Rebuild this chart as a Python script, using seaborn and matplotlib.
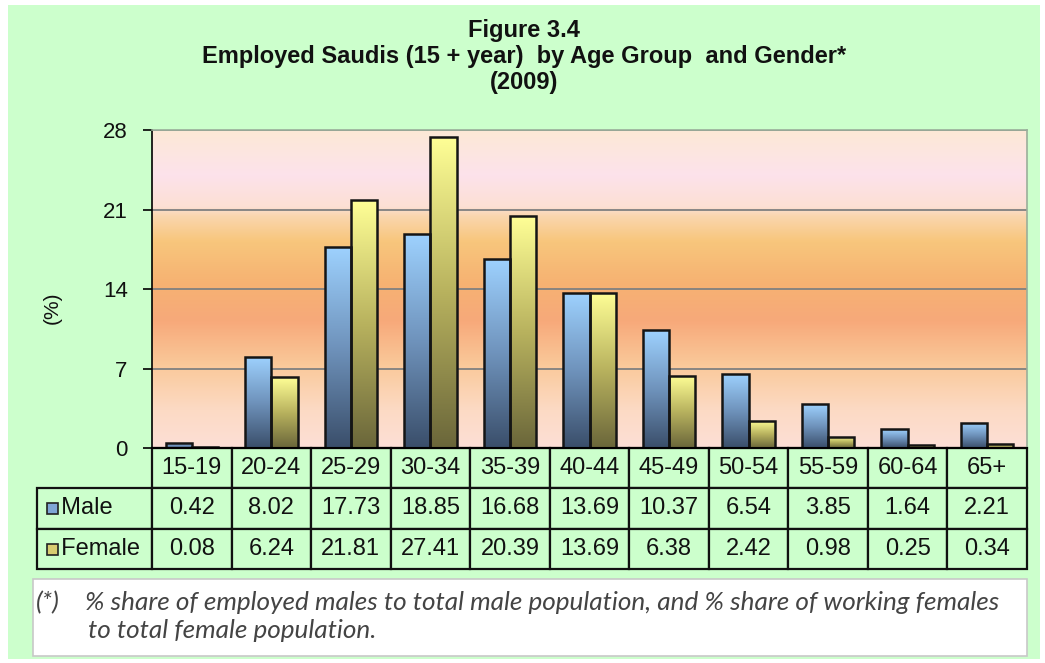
import numpy as np
import pandas as pd
import matplotlib
matplotlib.use("Agg")
import matplotlib.pyplot as plt
import seaborn as sns
from matplotlib.colors import LinearSegmentedColormap
from matplotlib.patches import Rectangle
from matplotlib.table import Table


# ----------------------------
# Data (read off the figure / data table)
# ----------------------------
AGE_GROUPS = ["15-19", "20-24", "25-29", "30-34", "35-39", "40-44",
              "45-49", "50-54", "55-59", "60-64", "65+"]
MALE = [0.42, 8.02, 17.73, 18.85, 16.68, 13.69, 10.37, 6.54, 3.85, 1.64, 2.21]
FEMALE = [0.08, 6.24, 21.81, 27.41, 20.39, 13.69, 6.38, 2.42, 0.98, 0.25, 0.34]
SERIES = ["Male", "Female"]
Y_TICKS = [0, 7, 14, 21, 28]

TITLE = ["Figure 3.4",
         "Employed Saudis (15 + year)  by Age Group  and Gender*",
         "(2009)"]
NOTE = ("% share of employed males to total male population, and % share of working females",
        "to total female population.")

df = pd.DataFrame({
    "age": AGE_GROUPS * 2,
    "gender": [SERIES[0]] * len(MALE) + [SERIES[1]] * len(FEMALE),
    "value": MALE + FEMALE,
})

GREEN = "#CCFFCC"
W, H = 1045, 663

sns.set_theme(style="white")
plt.rcParams['font.family'] = ['Liberation Sans', 'DejaVu Sans']

fig = plt.figure(figsize=(W / 100, H / 100), dpi=100, facecolor="white")
fig.patches.append(Rectangle((8 / W, 1 - 659 / H), 1032 / W, 654 / H,
                             transform=fig.transFigure, facecolor=GREEN,
                             edgecolor="none", zorder=-10))

# plot area in pixel coords: x 152..1027, y 130..448
ax = fig.add_axes([152 / W, 1 - 448 / H, 875 / W, 318 / H])

sns.barplot(data=df, x="age", y="value", hue="gender", order=AGE_GROUPS,
            hue_order=SERIES, width=0.66, palette=["#7FA8D8", "#D8D070"],
            edgecolor="#151515", linewidth=1.8, errorbar=None, legend=False,
            ax=ax)

# gradient fills for the bars
cmaps = {
    SERIES[0]: LinearSegmentedColormap.from_list("m", ["#3A4E6A", "#6F93BC", "#9ED2FF"]),
    SERIES[1]: LinearSegmentedColormap.from_list("f", ["#6A663A", "#B8B25E", "#FFFF96"]),
}
grad = np.linspace(0, 1, 256).reshape(-1, 1)
bars = [p for p in ax.patches if p.get_height() > 0]
for i, p in enumerate(bars):
    key = SERIES[0] if i < len(MALE) else SERIES[1]
    x0, y0 = p.get_x(), p.get_y()
    x1, y1 = x0 + p.get_width(), y0 + p.get_height()
    im = ax.imshow(grad, extent=[x0, x1, y0, y1], origin="lower",
                   cmap=cmaps[key], aspect="auto", zorder=1.5)
    im.set_clip_path(p)
    p.set_facecolor("none")
    p.set_zorder(2)

# plot-area background gradient (bottom -> top)
bg_cmap = LinearSegmentedColormap.from_list("bg", [
    (0.00, "#FDDFD6"),
    (0.12, "#FCDAC4"),
    (0.26, "#FAC99A"),
    (0.40, "#F7A97A"),
    (0.52, "#F6B272"),
    (0.65, "#F8C67C"),
    (0.73, "#FAD6AE"),
    (0.76, "#FCE0D4"),
    (0.86, "#FDE2EB"),
    (1.00, "#FCE9D6"),
])
ax.imshow(np.linspace(0, 1, 512).reshape(-1, 1), extent=[-0.5, 10.5, 0, 28],
          origin="lower", cmap=bg_cmap, aspect="auto", zorder=0)

ax.set_xlim(-0.5, len(AGE_GROUPS) - 0.5)
ax.set_ylim(0, 28)
ax.set_yticks(Y_TICKS)
ax.set_axisbelow(True)
ax.yaxis.grid(True, color="#808080", linewidth=1.3, zorder=0.5)
ax.xaxis.grid(False)
ax.tick_params(axis="x", length=0, labelbottom=False)
ax.tick_params(axis="y", direction="out", length=6.5, width=1.2, color="black",
               labelsize=16, pad=11, left=True, labelcolor="#111111")
ax.set_xlabel("")
ax.set_ylabel("")
fig.text(52 / W, 1 - 308 / H, "(%)", rotation=90, ha="center", va="center",
         fontsize=15, color="#111111")
for side in ["top", "right"]:
    ax.spines[side].set_color("#9AAE9A")
    ax.spines[side].set_linewidth(1.2)
ax.spines["left"].set_color("black")
ax.spines["left"].set_linewidth(1.2)
ax.spines["bottom"].set_color("black")
ax.spines["bottom"].set_linewidth(1.5)

# ----------------------------
# data table under the plot
# ----------------------------
row_h = 121 / 318 / 3
col_w = 1 / len(AGE_GROUPS)
tbl = Table(ax, bbox=[0, -121 / 318, 1, 121 / 318])
for j, lab in enumerate(AGE_GROUPS):
    tbl.add_cell(0, j, width=col_w, height=row_h, text=lab, loc="center",
                 facecolor=GREEN)
for r, (name, vals) in enumerate(zip(SERIES, [MALE, FEMALE]), start=1):
    tbl.add_cell(r, -1, width=115 / 875, height=row_h, text="  " + name,
                 loc="left", facecolor=GREEN)
    for j, v in enumerate(vals):
        tbl.add_cell(r, j, width=col_w, height=row_h, text=f"{v:.2f}",
                     loc="center", facecolor=GREEN)
tbl.auto_set_font_size(False)
tbl.set_fontsize(17)
for cell in tbl.get_celld().values():
    cell.set_edgecolor("#111111")
    cell.set_linewidth(1.6)
    cell.get_text().set_color("#111111")
ax.add_table(tbl)

# legend keys inside the row-label cells
for (y_top, fc) in [(503, "#7FA6D6"), (544, "#D8CC70")]:
    fig.patches.append(Rectangle((47 / W, 1 - (y_top + 11) / H), 11 / W, 11 / H,
                                 transform=fig.transFigure, facecolor=fc,
                                 edgecolor="#222222", linewidth=1.2, zorder=5))

# ----------------------------
# title
# ----------------------------
for line, y in zip(TITLE, [30, 57, 83]):
    fig.text(524 / W, 1 - y / H, line, ha="center", va="center",
             fontsize=17, fontweight="bold", color="#111111")

# ----------------------------
# footnote box
# ----------------------------
fig.patches.append(Rectangle((33 / W, 1 - 656 / H), 994 / W, 77 / H,
                             transform=fig.transFigure, facecolor="white",
                             edgecolor="#C8C8C8", linewidth=1.2, zorder=1))
note_font = ['Lato', 'DejaVu Sans']
note_kw = dict(ha="left", va="center", fontsize=18.8, style="italic",
               family=note_font, color="#444444")
fig.text(36 / W, 1 - 603 / H, "(*)", **note_kw)
fig.text(85 / W, 1 - 603 / H, NOTE[0], **note_kw)
fig.text(88 / W, 1 - 631 / H, NOTE[1], **note_kw)

fig.savefig("out.png", dpi=100, facecolor=fig.get_facecolor())
